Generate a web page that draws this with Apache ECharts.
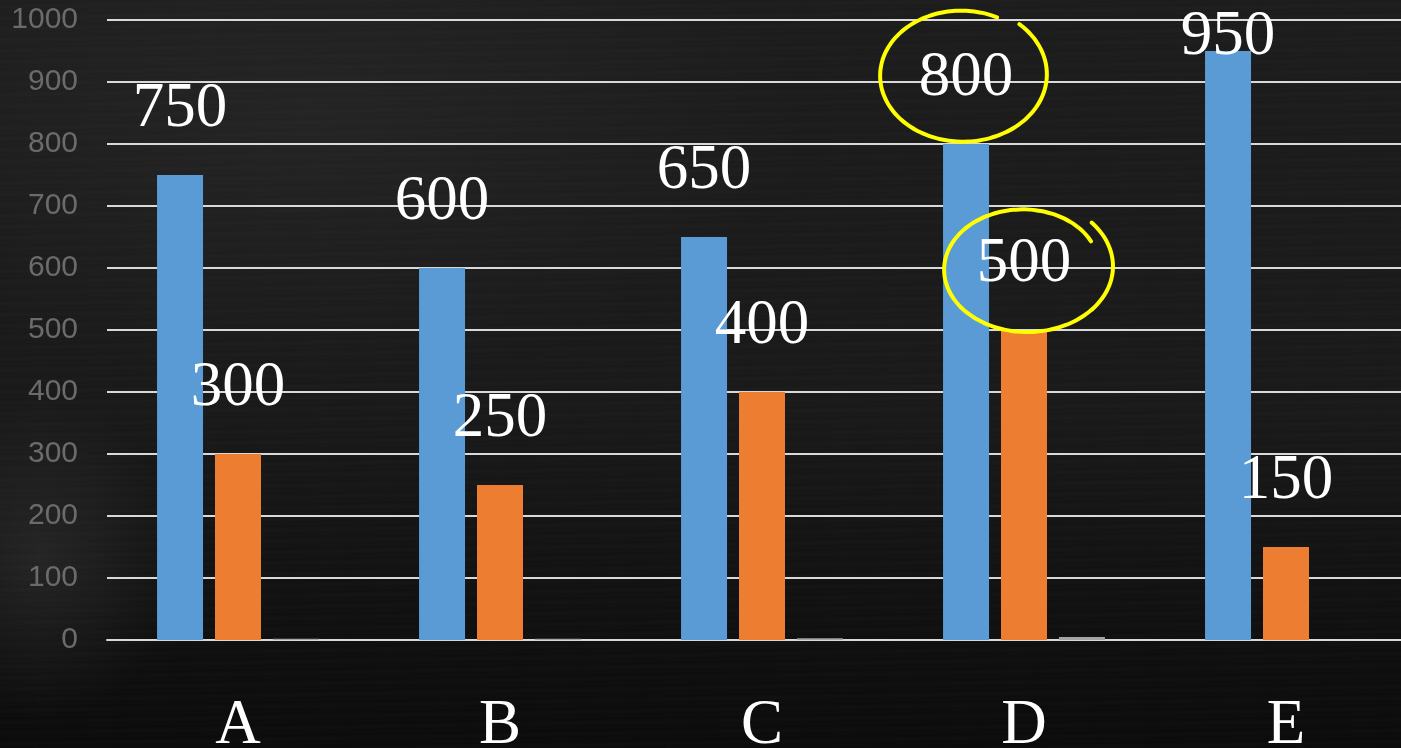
<!DOCTYPE html>
<html>
<head>
<meta charset="utf-8">
<title>Bar chart</title>
<script src="https://cdn.jsdelivr.net/npm/echarts@6/dist/echarts.min.js"></script>
<style>
  html, body { margin: 0; padding: 0; width: 1401px; height: 748px; overflow: hidden; }
  body {
    background:
      radial-gradient(ellipse 140px 160px at 40px 560px, rgba(90,90,90,0.25), rgba(90,90,90,0) 100%),
      radial-gradient(ellipse 500px 260px at 300px 120px, rgba(70,70,70,0.2), rgba(70,70,70,0) 100%),
      repeating-linear-gradient(179deg, rgba(255,255,255,0.012) 0px, rgba(255,255,255,0.0) 3px, rgba(255,255,255,0.016) 7px, rgba(255,255,255,0) 11px),
      linear-gradient(#1c1c1c 0%, #191919 55%, #0f0f0f 85%, #0b0b0b 100%);
  }
  #chart { width: 1401px; height: 748px; }
</style>
</head>
<body>
<div id="chart"></div>
<script>
// Categories and series values
const categories = ['A', 'B', 'C', 'D', 'E'];
const series1 = [750, 600, 650, 800, 950];
const series2 = [300, 250, 400, 500, 150];
const series3 = [2, 2, 3, 5, 0];
const yTicks = { min: 0, max: 1000, interval: 100 };

const serif = '"Liberation Serif", "Times New Roman", serif';

const valueLabel = {
  show: true,
  position: 'top',
  distance: 34,
  color: '#ffffff',
  fontFamily: serif,
  fontSize: 63
};

// The tallest bar keeps its label tucked against the top of the plot
const blueData = series1.map((v, i) => i === 4
  ? { value: v, label: { distance: -18 } }
  : v);

const chart = echarts.init(document.getElementById('chart'), null, { renderer: 'canvas' });

chart.setOption({
  backgroundColor: 'transparent',
  animation: false,
  grid: { left: 107, right: -16, top: 20, bottom: 108, outerBoundsMode: 'none' },
  xAxis: {
    type: 'category',
    data: categories,
    axisLine: { show: true, lineStyle: { color: '#d9d9d9', width: 2 } },
    axisTick: { show: false },
    axisLabel: { color: '#ffffff', fontFamily: serif, fontSize: 63, margin: 55 }
  },
  yAxis: {
    type: 'value',
    min: yTicks.min,
    max: yTicks.max,
    interval: yTicks.interval,
    axisLine: { show: false },
    axisTick: { show: false },
    axisLabel: {
      color: '#6b6b6b',
      fontFamily: '"Liberation Sans", Arial, sans-serif',
      fontSize: 30,
      margin: 29,
      formatter: (v) => String(v)
    },
    splitLine: { lineStyle: { color: '#d9d9d9', width: 2 } }
  },
  series: [
    { type: 'bar', data: blueData, barWidth: 46, barGap: '26%', itemStyle: { color: '#5b9bd5' }, label: valueLabel, z: 3 },
    { type: 'bar', data: series2, barWidth: 46, barGap: '26%', itemStyle: { color: '#ed7d31' }, label: valueLabel, z: 3 },
    { type: 'bar', data: series3, barWidth: 46, barGap: '26%', itemStyle: { color: '#a5a5a5' }, z: 3 }
  ]
});

// Hand-drawn highlight loops around the two values of category D
function loopPoints(cx, cy, rx, ry, t0, t1, r0, r1) {
  const pts = [];
  const n = 90;
  for (let k = 0; k <= n; k++) {
    const f = k / n;
    const t = (t0 + (t1 - t0) * f) * Math.PI / 180;
    const r = r0 + (r1 - r0) * f;
    pts.push([cx + rx * r * Math.cos(t), cy + ry * r * Math.sin(t)]);
  }
  return pts;
}

function drawHighlights() {
  const idx = categories.indexOf('D');
  const blue = chart.getModel().getSeriesByIndex(0).getData().getItemLayout(idx);
  const orange = chart.getModel().getSeriesByIndex(1).getData().getItemLayout(idx);
  const blueTop = blue.y + Math.min(0, blue.height);
  const orangeTop = orange.y + Math.min(0, orange.height);
  const bx = blue.x + blue.width / 2;
  const ox = orange.x + orange.width / 2;
  const pen = { stroke: '#ffff00', lineWidth: 4, fill: null, lineCap: 'round', lineJoin: 'round' };

  chart.setOption({
    graphic: [
      {
        type: 'polyline', silent: true, z: 100,
        shape: { points: loopPoints(bx - 4, blueTop - 69, 80, 64, -64, -408, 1.0, 1.07), smooth: 0.3 },
        style: pen
      },
      {
        type: 'polyline', silent: true, z: 100,
        shape: { points: loopPoints(ox + 1, orangeTop - 62, 87, 66, -42, 332, 1.03, 0.86), smooth: 0.3 },
        style: pen
      }
    ]
  });
}

drawHighlights();
</script>
</body>
</html>
